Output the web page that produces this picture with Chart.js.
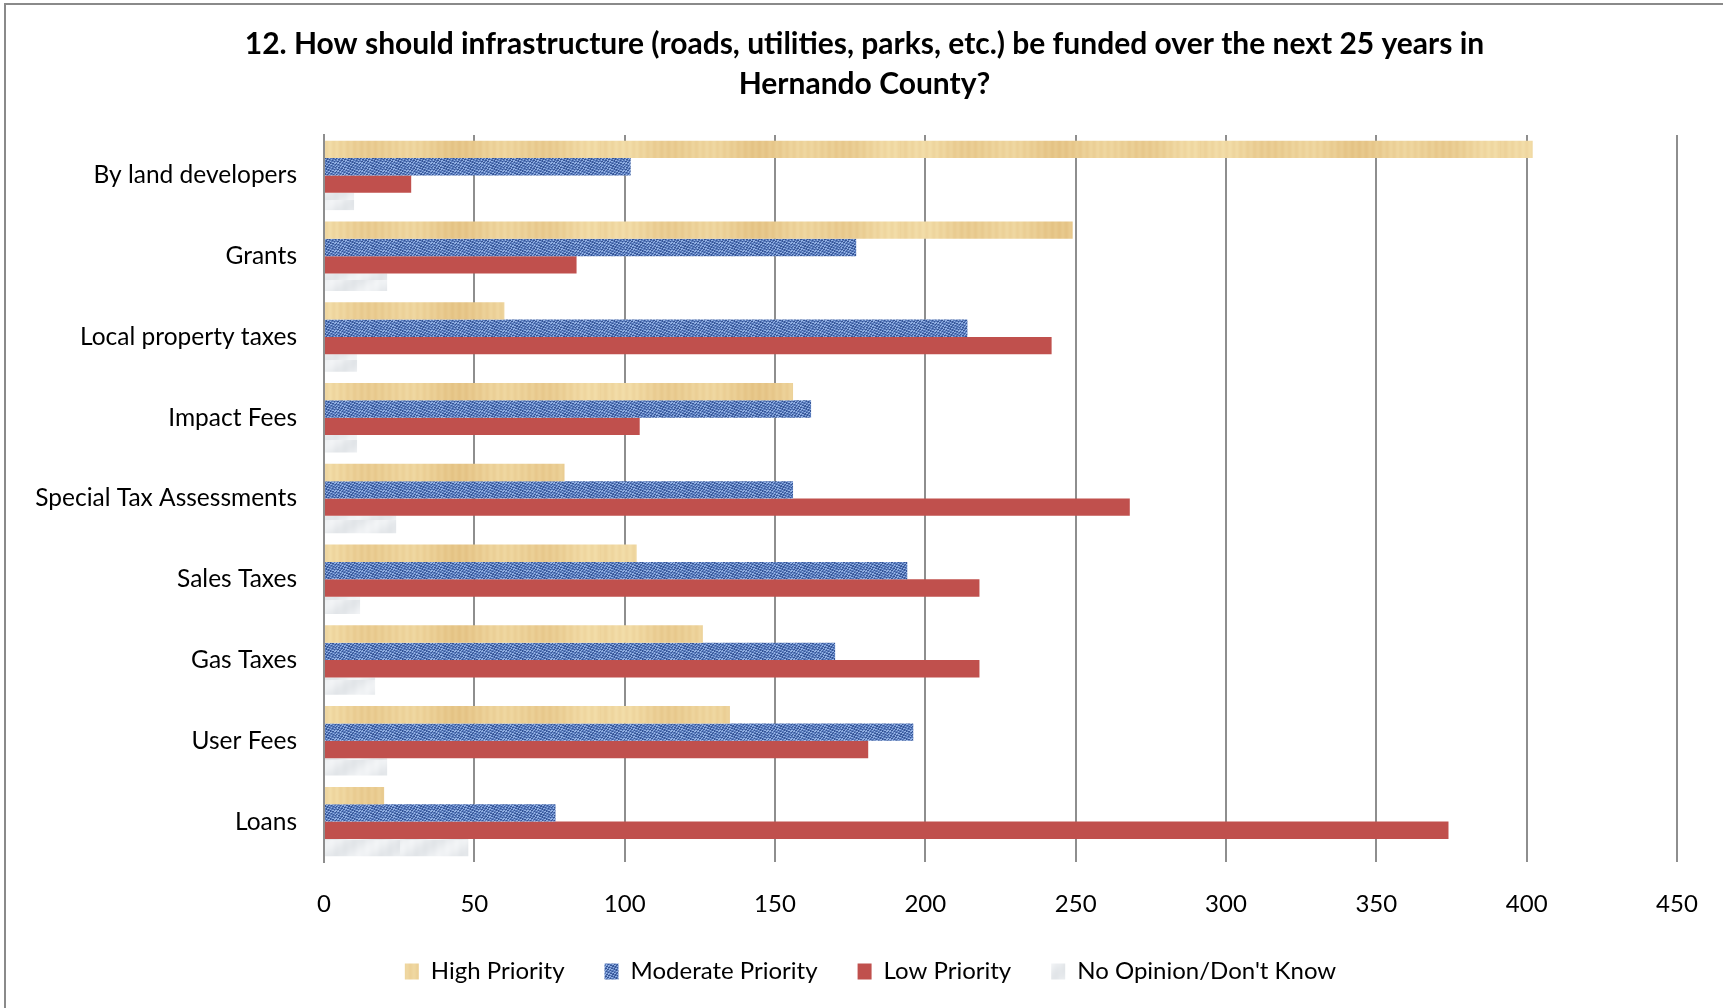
<!DOCTYPE html>
<html>
<head>
<meta charset="utf-8">
<script src="https://cdn.jsdelivr.net/npm/chart.js@4.4.1/dist/chart.umd.min.js"></script>
<style>
  html, body { margin: 0; padding: 0; background: #ffffff; }
  #wrap { position: relative; width: 1723px; height: 1008px; }
</style>
</head>
<body>
<div id="wrap"><canvas id="c" width="1723" height="1008"></canvas></div>
<script>
const categories = ["By land developers", "Grants", "Local property taxes", "Impact Fees", "Special Tax Assessments", "Sales Taxes", "Gas Taxes", "User Fees", "Loans"];
const highPriority = [402, 249, 60, 156, 80, 104, 126, 135, 20];
const moderatePriority = [102, 177, 214, 162, 156, 194, 170, 196, 77];
const lowPriority = [29, 84, 242, 105, 268, 218, 218, 181, 374];
const noOpinion = [10, 21, 11, 11, 24, 12, 17, 21, 48];
const seriesNames = ["High Priority", "Moderate Priority", "Low Priority", "No Opinion/Don't Know"];
const xTicks = [0, 50, 100, 150, 200, 250, 300, 350, 400, 450];
const titleLines = ["12. How should infrastructure (roads, utilities, parks, etc.) be funded over the next 25 years in", "Hernando County?"];

const ctx = document.getElementById('c').getContext('2d');

function mix(a, b, t) {
  return 'rgb(' + a.map((v, i) => Math.round(v + (b[i] - v) * t)).join(',') + ')';
}
function woodPattern() {
  const c = document.createElement('canvas'); c.width = 300; c.height = 20;
  const g = c.getContext('2d');
  const dark = [226, 190, 126], light = [243, 222, 170];
  for (let x = 0; x < c.width; x++) {
    let t = 0.55 + 0.2 * Math.sin(x * 0.07) + 0.12 * Math.sin(x * 0.023 + 1.0) + 0.1 * Math.sin(x * 0.9);
    t = Math.max(0, Math.min(1, t));
    g.fillStyle = mix(dark, light, t);
    g.fillRect(x, 0, 1, c.height);
  }
  return ctx.createPattern(c, 'repeat');
}
function denimPattern() {
  const c = document.createElement('canvas'); c.width = 24; c.height = 8;
  const g = c.getContext('2d');
  const dark = [45, 75, 140], mid = [100, 135, 200], light = [165, 195, 240];
  for (let x = 0; x < c.width; x++) {
    for (let y = 0; y < c.height; y++) {
      const v = Math.sin(x * 2.1 + y * 1.7) + Math.sin(x * 0.9 - y * 2.3);
      g.fillStyle = v > 0.5 ? mix(mid, light, 0.7) : (v < -0.7 ? mix(dark, mid, 0.15) : mix(dark, mid, 0.8));
      g.fillRect(x, y, 1, 1);
    }
  }
  return ctx.createPattern(c, 'repeat');
}
function marblePattern() {
  const c = document.createElement('canvas'); c.width = 80; c.height = 20;
  const g = c.getContext('2d');
  const a = [218, 222, 226], b = [242, 244, 246];
  for (let x = 0; x < c.width; x++) {
    for (let y = 0; y < c.height; y++) {
      let t = 0.65 + 0.3 * Math.sin((x + y * 1.4) * 0.13) + 0.05 * Math.sin(x * 0.7);
      t = Math.max(0, Math.min(1, t));
      g.fillStyle = mix(a, b, t);
      g.fillRect(x, y, 1, 1);
    }
  }
  return ctx.createPattern(c, 'repeat');
}

const fills = [woodPattern(), denimPattern(), '#C0504D', marblePattern()];
const values = [highPriority, moderatePriority, lowPriority, noOpinion];

const frame = {
  id: 'frame',
  afterLayout(chart) {
    // centre the title and legend blocks as in the reference
    const t = chart.titleBlock; if (t) { t.left += 16; t.right += 16; }
    const l = chart.legend; if (l) { l.left += 22; l.right += 22; }
  },
  beforeDraw(chart) {
    const g = chart.ctx;
    g.save();
    g.strokeStyle = '#8a8a8a';
    g.lineWidth = 2;
    g.beginPath();
    g.moveTo(5, chart.height);
    g.lineTo(5, 4);
    g.lineTo(chart.width, 4);
    g.stroke();
    g.restore();
  }
};

new Chart(ctx, {
  type: 'bar',
  data: {
    labels: categories,
    datasets: seriesNames.map((name, i) => ({
      label: name,
      data: values[i],
      backgroundColor: fills[i],
      borderWidth: 0,
      barPercentage: 1.0,
      categoryPercentage: 0.86
    }))
  },
  options: {
    indexAxis: 'y',
    responsive: false,
    animation: false,
    events: [],
    layout: { padding: { left: 20, right: 46, top: 0, bottom: 14.5 } },
    scales: {
      x: {
        min: 0, max: 450,
        afterBuildTicks(scale) { scale.ticks = xTicks.map(v => ({ value: v })); },
        afterFit(scale) { scale.height = 57.5; scale.paddingLeft = 0; scale.paddingRight = 0; },
        grid: { display: true, color: '#8e8e8e', lineWidth: 2, drawTicks: false },
        border: { display: false },
        ticks: { color: '#000', padding: 28, font: { family: 'Lato', size: 24 } }
      },
      y: {
        afterFit(scale) { scale.width = 304; scale.paddingTop = 0; scale.paddingBottom = 0; },
        grid: { display: false, drawTicks: false },
        border: { display: true, color: '#8e8e8e', width: 2 },
        ticks: { color: '#000', padding: 27, font: { family: 'Lato', size: 24.5 } }
      }
    },
    plugins: {
      tooltip: { enabled: false },
      title: {
        display: true,
        text: titleLines,
        color: '#000',
        font: { family: 'Lato', size: 30, weight: 'bold', lineHeight: 1.32 },
        padding: { top: 25, bottom: 30.8 }
      },
      legend: {
        position: 'bottom',
        labels: {
          color: '#000',
          font: { family: 'Lato', size: 24 },
          boxWidth: 14,
          boxHeight: 16,
          padding: 40
        }
      }
    }
  },
  plugins: [frame]
});
</script>
</body>
</html>
